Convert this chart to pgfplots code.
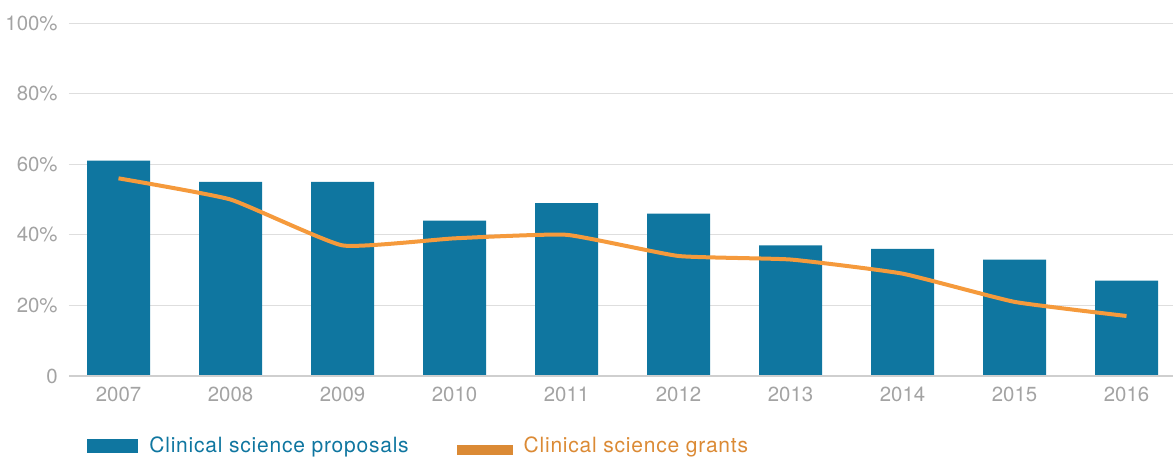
\documentclass[border=0pt]{standalone}
\usepackage{pgfplots}
\pgfplotsset{compat=1.18}
\usepackage{fontspec}
\setmainfont{TeX Gyre Heros}
\newfontfamily\legfont[LetterSpace=3.7]{TeX Gyre Heros}
\definecolor{propblue}{HTML}{0F76A0}
\definecolor{grantor}{HTML}{F59A3C}
\definecolor{grantleg}{HTML}{DB8A35}
\definecolor{ticktxt}{HTML}{A3A3A3}
\definecolor{gridc}{HTML}{DEDEDE}
\definecolor{basec}{HTML}{CFCFCF}
\begin{document}
\fontsize{10}{12}\selectfont
\begin{tikzpicture}
\path[use as bounding box] (-34.5pt,-40.5pt) rectangle (552pt,188pt);
\begin{axis}[
  at={(0,0)}, anchor=south west,
  scale only axis, width=552pt, height=176.5pt,
  xmin=-0.442, xmax=9.415,
  ymin=0, ymax=100,
  xtick={0,...,9},
  xticklabels={2007,2008,2009,2010,2011,2012,2013,2014,2015,2016},
  ytick={0,20,40,60,80,100},
  yticklabels={0,20\%,40\%,60\%,80\%,100\%},
  major tick length=0pt,
  tick label style={font=\fontsize{10.2}{12}\selectfont, text=ticktxt},
  yticklabel style={inner sep=0pt, xshift=-5.5pt},
  xticklabel style={inner sep=0pt, yshift=-5.5pt},
  axis line style={draw=none},
  ymajorgrids, grid style={gridc, line width=0.5pt},
  legend columns=2,
  legend style={at={(0.0163,-0.218)}, anchor=base west, draw=none, fill=none,
    inner sep=0pt, cells={anchor=base west},
    font=\legfont\fontsize{10.5}{12}\selectfont,
    /tikz/every odd column/.append style={column sep=3.5pt},
    /tikz/every even column/.append style={column sep=22pt}},
]
\addplot[ybar, bar width=31.5pt, fill=propblue, draw=none,
  legend image code/.code={\fill[propblue] (0pt,0pt) rectangle (25.5pt,7pt);}]
  coordinates {(0,61) (1,55) (2,55) (3,44) (4,49) (5,46) (6,37) (7,36) (8,33) (9,27)};
\addlegendentry{\textcolor{propblue}{Clinical science proposals}}
\draw[basec, line width=1pt] (axis cs:-0.442,0) -- (axis cs:9.415,0);
\addplot[grantor, line width=2pt, smooth, tension=0.25, mark=none,
  legend image code/.code={\fill[grantleg] (0pt,0pt) rectangle (26pt,3pt);}]
  coordinates {(0,56) (1,50) (2,37) (3,39) (4,40) (5,34) (6,33) (7,29) (8,21) (9,17)};
\addlegendentry{\textcolor{grantleg}{Clinical science grants}}
\end{axis}
\end{tikzpicture}
\end{document}
